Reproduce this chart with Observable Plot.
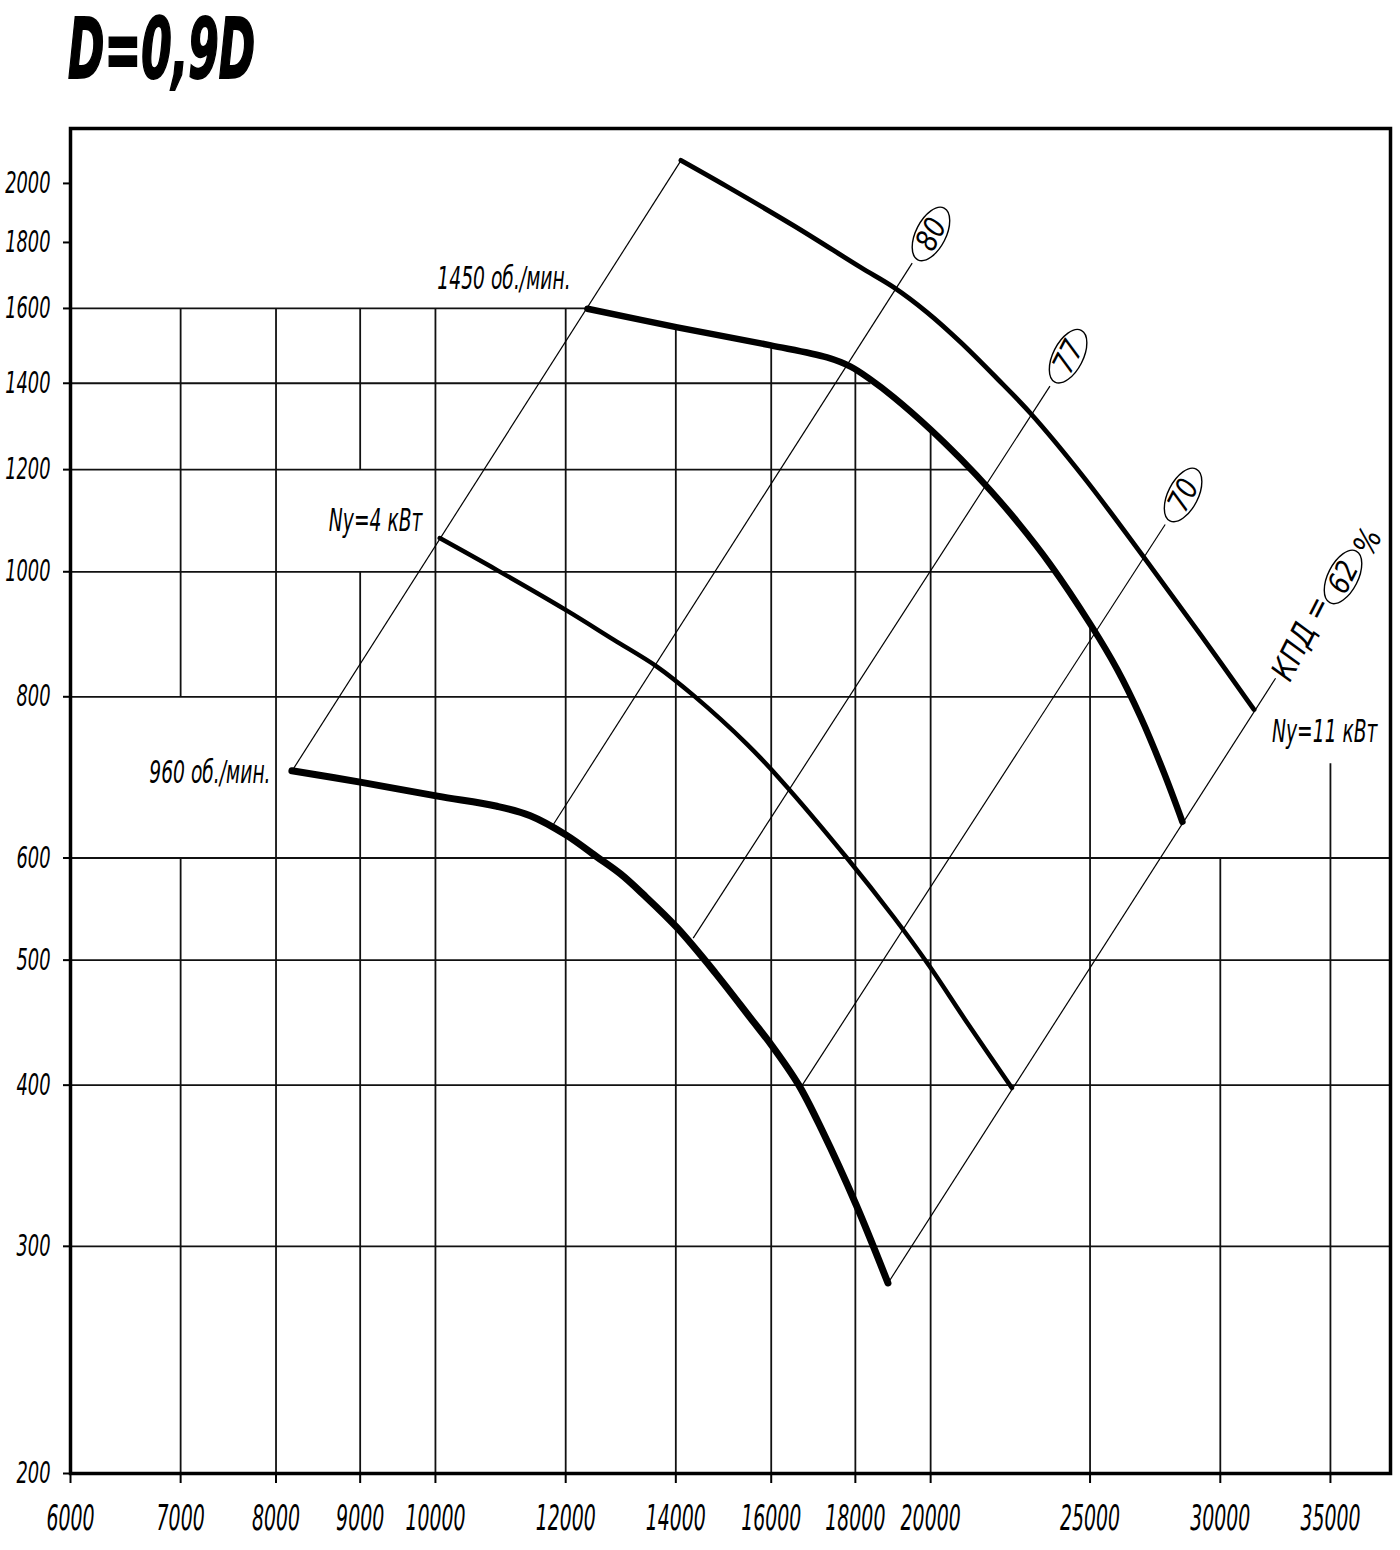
<!DOCTYPE html>
<html>
<head>
<meta charset="utf-8">
<script src="https://cdn.jsdelivr.net/npm/d3@7"></script>
<script src="https://cdn.jsdelivr.net/npm/@observablehq/plot@0.6"></script>
<style>
  body { margin: 0; background: #fff; }
  #wrap { position: relative; width: 1400px; height: 1550px; overflow: hidden; background: #fff; }
  #title {
    position: absolute; left: 68px; top: 7px;
    font-family: "DejaVu Sans Condensed", "DejaVu Sans", sans-serif;
    font-weight: bold; font-style: italic; font-size: 84px; line-height: 1;
    transform: scaleX(0.58); transform-origin: left top;
    -webkit-text-stroke: 2px #000; color: #000; white-space: nowrap;
  }
  #chart { position: absolute; left: 0; top: 100px; }
  #chart [aria-label$="-axis tick"], #chart [aria-label="x-axis"] line, #chart [aria-label="y-axis"] line { stroke-width: 2px; }
</style>
</head>
<body>
<div id="wrap">
  <div id="title">D=0,9D</div>
  <div id="chart"></div>
</div>
<script>
// ---- axes ----
const xTicks = [6000, 7000, 8000, 9000, 10000, 12000, 14000, 16000, 18000, 20000, 25000, 30000, 35000];
const yTicks = [200, 300, 400, 500, 600, 800, 1000, 1200, 1400, 1600, 1800, 2000];
const xMin = 6000, xMax = 38070;
const yMin = 200, yMax = 2206;

// ---- fan curves (Q м³/ч, P Па) ----
const q960 = [8180, 9000, 10030, 10900, 11420, 12010, 12540, 12960, 13380, 14020, 14790, 15540, 16020, 16630, 17180, 18020, 18840];
const p960 = [701, 687, 670, 658, 647, 625, 601, 583, 562, 530, 489, 451, 429, 400, 369, 323, 281];

const q1450 = [12370, 14030, 15990, 17300, 17880, 18390, 19000, 20000, 20850, 21750, 22570, 23650, 25020, 25970, 26830, 27720, 28450];
const p1450 = [1599, 1547, 1498, 1466, 1442, 1409, 1365, 1289, 1224, 1156, 1094, 1013, 910, 840, 772, 699, 640];

const qNy4 = [10060, 10900, 12020, 12830, 13640, 14350, 15470, 16210, 17790, 18990, 19960, 20980, 22410];
const pNy4 = [1062, 1003, 933, 886, 844, 802, 735, 690, 600, 540, 495, 450, 398];

const qNy11 = [14100, 15040, 16520, 18130, 19000, 19900, 20850, 21950, 23000, 24790, 26960, 29180, 31450];
const pNy11 = [2084, 1989, 1854, 1722, 1661, 1589, 1507, 1412, 1327, 1183, 1026, 894, 782];

// ---- efficiency (system) lines: lower / upper ends ----
const effName = ["", "80", "77", "70", "62"];
const effQlo = [8182, 11776, 14345, 16711, 18844];
const effPlo = [701, 635, 520, 400, 281];
const effQhi = [14103, 19490, 23635, 27772, 32413];
const effPhi = [2084, 1735, 1393, 1088, 827];

// circled efficiency values
const circText = ["80", "77", "70", "62"];
const circQ = [20023, 24260, 28497, 35647];
const circP = [1826, 1468, 1146, 990];

// curve captions
const capText = ["1450 об./мин.", "960 об./мин.", "Ny=4 кВт", "Ny=11 кВт"];
const capQ = [12082, 7939, 9820, 37384];
const capP = [1688, 699, 1096, 752];

// КПД caption
const kpdText = ["КПД =", "%"];
const kpdQ = [33600, 36900];
const kpdP = [888, 1055];

// ---- grid segments ----
const hGridP = [1600, 1400, 1200, 1000, 800, 600, 500, 400, 300];
const hGridQend = [12370, 18400, 21160, 23760, 26400, xMax, xMax, xMax, xMax];
const vGridQ = [7000, 7000, 8000, 9000, 9000, 10000, 12000, 14000, 16000, 18000, 20000, 25000, 30000, 35000];
const vGridPlo = [800, 200, 200, 1200, 200, 200, 200, 200, 200, 200, 200, 200, 200, 200];
const vGridPhi = [1600, 600, 1600, 1600, 1000, 1600, 1600, 1547, 1498, 1430, 1289, 910, 600, 710];

// ---- build tables ----
const pts = (q, p) => q.map((v, i) => ({Q: v, P: p[i]}));
const hGrid = hGridP.map((p, i) => ({P: p, Q1: xMin, Q2: hGridQend[i]}));
const vGrid = vGridQ.map((q, i) => ({Q: q, P1: vGridPlo[i], P2: vGridPhi[i]}));
const eff = effName.map((n, i) => ({n, Q1: effQlo[i], P1: effPlo[i], Q2: effQhi[i], P2: effPhi[i]}));
const circ = circText.map((t, i) => ({t, Q: circQ[i], P: circP[i]}));
const caps = capText.map((t, i) => ({t, Q: capQ[i], P: capP[i]}));
const kpd = kpdText.map((t, i) => ({t, Q: kpdQ[i], P: kpdP[i]}));

const NS = "http://www.w3.org/2000/svg";
function ellipseMark(index, scales) {
  const g = document.createElementNS(NS, "g");
  g.setAttribute("aria-label", "efficiency rings");
  circ.forEach(d => {
    const e = document.createElementNS(NS, "ellipse");
    e.setAttribute("transform", `translate(${scales.x(d.Q)},${scales.y(d.P)}) rotate(-63)`);
    e.setAttribute("rx", 29);
    e.setAttribute("ry", 15);
    e.setAttribute("fill", "none");
    e.setAttribute("stroke", "#000");
    e.setAttribute("stroke-width", 1.4);
    g.appendChild(e);
  });
  return g;
}

const plot = Plot.plot({
  width: 1400,
  height: 1450,
  marginTop: 28,
  marginLeft: 70,
  marginRight: 10,
  marginBottom: 77,
  style: {
    fontFamily: '"DejaVu Sans Condensed", "DejaVu Sans", sans-serif',
    fontStyle: "italic",
    fontSize: "30px",
    color: "#000",
    background: "#fff"
  },
  x: {type: "log", domain: [xMin, xMax], ticks: xTicks, tickFormat: d => String(d), tickSize: 10, tickPadding: 22, label: null},
  y: {type: "log", domain: [yMin, yMax], ticks: yTicks, tickFormat: d => String(d), tickSize: 7, tickPadding: 13, label: null},
  marks: [
    Plot.ruleY(hGrid, {y: "P", x1: "Q1", x2: "Q2", stroke: "#111", strokeWidth: 1.8}),
    Plot.ruleX(vGrid, {x: "Q", y1: "P1", y2: "P2", stroke: "#111", strokeWidth: 1.8}),
    Plot.frame({stroke: "#000", strokeWidth: 3.5}),
    Plot.link(eff, {x1: "Q1", y1: "P1", x2: "Q2", y2: "P2", stroke: "#000", strokeWidth: 1.2}),
    Plot.line(pts(qNy4, pNy4), {x: "Q", y: "P", curve: "catmull-rom", stroke: "#000", strokeWidth: 4.5, strokeLinecap: "round"}),
    Plot.line(pts(qNy11, pNy11), {x: "Q", y: "P", curve: "catmull-rom", stroke: "#000", strokeWidth: 4.8, strokeLinecap: "round"}),
    Plot.line(pts(q960, p960), {x: "Q", y: "P", curve: "catmull-rom", stroke: "#000", strokeWidth: 7, strokeLinecap: "round", strokeLinejoin: "round"}),
    Plot.line(pts(q1450, p1450), {x: "Q", y: "P", curve: "catmull-rom", stroke: "#000", strokeWidth: 6.5, strokeLinecap: "round", strokeLinejoin: "round"}),
    Plot.text(caps, {x: "Q", y: "P", text: "t", textAnchor: "end", lineAnchor: "middle", fontSize: 32, fill: "#000"}),
    Plot.text(circ, {x: "Q", y: "P", text: "t", textAnchor: "middle", lineAnchor: "middle", rotate: -63, fontSize: 30, fill: "#000"}),
    Plot.text(kpd, {x: "Q", y: "P", text: "t", textAnchor: "middle", lineAnchor: "middle", rotate: -63, fontSize: 32, fill: "#000"}),
    ellipseMark
  ]
});

document.getElementById("chart").appendChild(plot);

// condensed lettering like the drawing
plot.querySelectorAll("text").forEach(t => {
  const inX = t.closest('[aria-label^="x-axis"]');
  const inY = t.closest('[aria-label^="y-axis"]');
  if (inX) t.style.fontSize = "35px";
  const rotated = (t.getAttribute("transform") || "").includes("rotate");
  const k = inX ? 0.6 : inY ? 0.66 : rotated ? 0.92 : 0.65;
  const L = t.getComputedTextLength();
  if (L > 0) {
    t.setAttribute("textLength", (L * k).toFixed(1));
    t.setAttribute("lengthAdjust", "spacingAndGlyphs");
  }
});
</script>
</body>
</html>
